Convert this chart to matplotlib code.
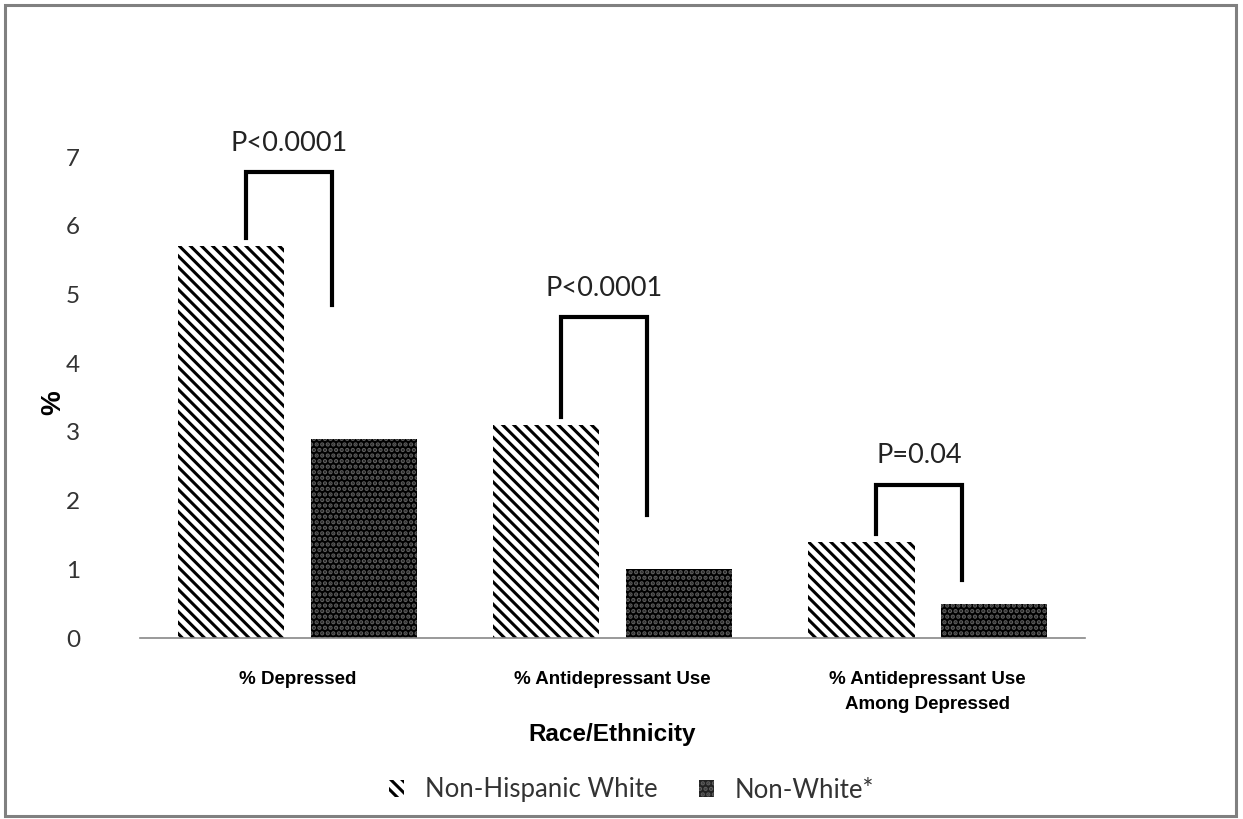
import matplotlib
matplotlib.use("Agg")
import matplotlib.pyplot as plt
from matplotlib.patches import Rectangle, Patch
import numpy as np

categories = ["% Depressed", "% Antidepressant Use", "% Antidepressant Use\nAmong Depressed"]
series_names = ["Non-Hispanic White", "Non-White*"]
white_vals = [5.7, 3.1, 1.4]
nonwhite_vals = [2.9, 1.0, 0.5]
p_labels = ["P<0.0001", "P<0.0001", "P=0.04"]
bracket_tops = [6.78, 4.67, 2.23]
bracket_right_ends = [4.85, 1.79, 0.84]
yticks = [0, 1, 2, 3, 4, 5, 6, 7]

plt.rcParams['hatch.linewidth'] = 2.2

fig = plt.figure(figsize=(12.43, 8.19), dpi=100)
ax = fig.add_axes([0.1126, 0.221, 0.7604, 0.5873])

x = np.arange(len(categories))
w = 0.337
off = 0.21
dot_color = "#5e5e5e"

ax.bar(x - off, white_vals, w, facecolor="white", edgecolor="black", hatch="\\\\\\", linewidth=0)
ax.bar(x + off, nonwhite_vals, w, facecolor="black", edgecolor="none", linewidth=0)
ax.bar(x + off, nonwhite_vals, w, facecolor="none", edgecolor=dot_color, hatch="...", linewidth=0)

for i in range(len(categories)):
    xl = x[i] - 0.165
    xr = x[i] + 0.11
    top = bracket_tops[i]
    ax.plot([xl, xl, xr, xr], [white_vals[i] + 0.12, top, top, bracket_right_ends[i]],
            color="black", lw=3, solid_joinstyle="miter", clip_on=False)
    ax.text((xl + xr) / 2, top + 0.42, p_labels[i], ha="center", va="center",
            fontsize=19.5, family="Lato", color="#222222")

ax.set_xlim(-0.5, 2.5)
ax.set_ylim(0, 7)
ax.set_yticks(yticks)
ax.set_xticks(x)
ax.set_xticklabels(categories, fontsize=13.5, fontweight="bold", family="Liberation Sans", linespacing=1.6)
for lab in ax.get_yticklabels():
    lab.set_family("Lato")
    lab.set_fontsize(17.5)
    lab.set_color("#333333")
ax.tick_params(axis="y", length=0, pad=43)
ax.tick_params(axis="x", length=0, pad=24)
for s in ["top", "right", "left"]:
    ax.spines[s].set_visible(False)
ax.spines["bottom"].set_color("#888888")
ax.spines["bottom"].set_linewidth(1.2)

ax.set_ylabel("%", fontsize=20, fontweight="bold", family="Liberation Sans")
ax.yaxis.set_label_coords(-0.078, 0.49)
fig.text(0.4925, 1 - 735 / 819, "Race/Ethnicity", ha="center", va="center",
         fontsize=17.5, fontweight="bold", family="Liberation Sans")

handles = [Patch(facecolor="white", edgecolor="black", hatch="\\\\\\", linewidth=0),
           Patch(facecolor="#222222", edgecolor=dot_color, hatch="...", linewidth=0)]
leg = fig.legend(handles, series_names, loc="center", bbox_to_anchor=(0.508, 1 - 790 / 819),
                 ncol=2, frameon=False, handlelength=0.6, handleheight=0.6,
                 columnspacing=1.6, handletextpad=0.8, prop={"family": "Lato", "size": 18.5})
for t in leg.get_texts():
    t.set_color("#333333")

fig.patches.append(Rectangle((5 / 1243, 3 / 819), 1231 / 1243, 811 / 819, transform=fig.transFigure,
                             fill=False, edgecolor="#808080", linewidth=2.2))

fig.savefig("out.png", dpi=100, facecolor="white")
